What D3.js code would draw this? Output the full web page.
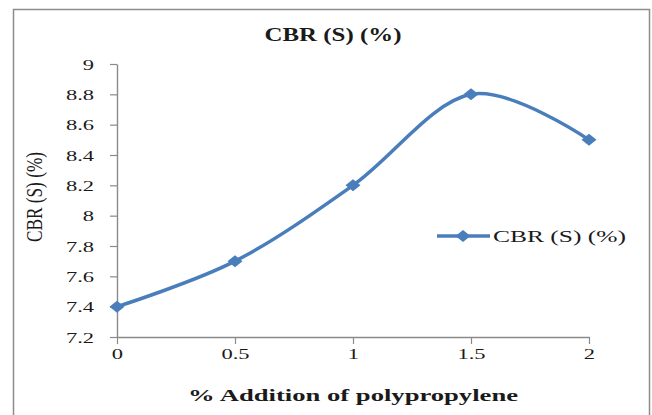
<!DOCTYPE html>
<html>
<head>
<meta charset="utf-8">
<script src="https://cdn.jsdelivr.net/npm/d3@7"></script>
<style>
  html, body { margin: 0; padding: 0; background: #fff; }
  svg { display: block; }
</style>
</head>
<body>
<script>
// CBR (S) values against polypropylene content
const additions = [0, 0.5, 1, 1.5, 2];
const cbrValues = [7.4, 7.7, 8.2, 8.8, 8.5];
const xTicks = [0, 0.5, 1, 1.5, 2];
const yTicks = [7.2, 7.4, 7.6, 7.8, 8, 8.2, 8.4, 8.6, 8.8, 9];
const seriesName = "CBR (S) (%)";
const chartTitle = "CBR (S) (%)";
const xTitle = "% Addition of polypropylene";
const yTitle = "CBR (S) (%)";

const W = 652, H = 415;
const blue = "#4a7ebb";
const axisGrey = "#8a8a8a";
const ink = "#1a1a1a";
const serif = "Liberation Serif, Times New Roman, serif";
const stretch = 1.5; // glyphs are drawn wide

const svg = d3.select("body").append("svg").attr("width", W).attr("height", H);

// chart frame
svg.append("rect")
  .attr("x", 13.5).attr("y", 9.5).attr("width", 636).attr("height", 430)
  .attr("fill", "#fff").attr("stroke", "#8c8c8c").attr("stroke-width", 1.5);

const x = d3.scaleLinear().domain([0, 2]).range([117, 589]);
const y = d3.scaleLinear().domain([7.2, 9]).range([337, 64]);

// y axis
const yAxis = svg.append("g")
  .attr("transform", `translate(${x(0)},0)`)
  .call(d3.axisLeft(y).tickValues(yTicks).tickSize(7).tickSizeOuter(0).tickFormat(d3.format("")));
yAxis.attr("font-family", serif);
yAxis.select(".domain").attr("stroke", axisGrey).attr("stroke-width", 1.4);
yAxis.selectAll(".tick line").attr("stroke", axisGrey).attr("stroke-width", 1.2);
yAxis.selectAll(".tick text")
  .attr("x", null).attr("dy", null)
  .attr("text-anchor", "end")
  .attr("dominant-baseline", "central")
  .attr("transform", `translate(-23,0) scale(${stretch},1)`)
  .attr("font-family", serif).attr("font-size", 15).attr("fill", ink);

// x axis
const xAxis = svg.append("g")
  .attr("transform", `translate(0,${y(7.2)})`)
  .call(d3.axisBottom(x).tickValues(xTicks).tickSize(7).tickSizeOuter(0).tickFormat(d3.format("")));
xAxis.attr("font-family", serif);
xAxis.select(".domain").attr("stroke", axisGrey).attr("stroke-width", 1.4);
xAxis.selectAll(".tick line").attr("stroke", axisGrey).attr("stroke-width", 1.2);
xAxis.selectAll(".tick text")
  .attr("y", null).attr("dy", null)
  .attr("text-anchor", "middle")
  .attr("transform", `translate(0,22) scale(${stretch},1)`)
  .attr("font-family", serif).attr("font-size", 15).attr("fill", ink);

// smoothed series line
const line = d3.line()
  .x((d, i) => x(additions[i]))
  .y(d => y(d))
  .curve(d3.curveCardinal.tension(0));
svg.append("path")
  .datum(cbrValues)
  .attr("d", line)
  .attr("fill", "none")
  .attr("stroke", blue)
  .attr("stroke-width", 3.5)
  .attr("stroke-linecap", "round");

// diamond markers
const diamond = d3.symbol().type(d3.symbolSquare).size(72)();
svg.append("g").selectAll("path")
  .data(cbrValues)
  .join("path")
  .attr("d", diamond)
  .attr("transform", (d, i) => `translate(${x(additions[i])},${y(d)}) scale(1.25,1) rotate(45)`)
  .attr("fill", blue);

// titles
svg.append("text")
  .attr("x", 333).attr("y", 41)
  .attr("text-anchor", "middle")
  .attr("font-family", serif).attr("fill", ink)
  .attr("font-weight", "bold")
  .attr("font-size", 19)
  .attr("textLength", 137).attr("lengthAdjust", "spacingAndGlyphs")
  .text(chartTitle);

svg.append("text")
  .attr("x", 353).attr("y", 401)
  .attr("text-anchor", "middle")
  .attr("font-family", serif).attr("fill", ink)
  .attr("font-weight", "bold")
  .attr("font-size", 16)
  .attr("textLength", 330).attr("lengthAdjust", "spacingAndGlyphs")
  .text(xTitle);

svg.append("text")
  .attr("transform", "translate(42,197) rotate(-90) scale(1,1.35)")
  .attr("text-anchor", "middle")
  .attr("font-family", serif).attr("fill", ink)
  .attr("font-size", 17)
  .attr("textLength", 90).attr("lengthAdjust", "spacingAndGlyphs")
  .text(yTitle);

// legend
const legend = svg.append("g").attr("transform", "translate(437,236)");
legend.append("line")
  .attr("x1", 0).attr("x2", 53).attr("y1", 0).attr("y2", 0)
  .attr("stroke", blue).attr("stroke-width", 3.5);
legend.append("path")
  .attr("d", diamond)
  .attr("transform", "translate(26,0) scale(1.25,1) rotate(45)")
  .attr("fill", blue);
legend.append("text")
  .attr("x", 56).attr("y", 6)
  .attr("font-family", serif).attr("fill", ink)
  .attr("font-size", 17)
  .attr("textLength", 133).attr("lengthAdjust", "spacingAndGlyphs")
  .text(seriesName);
</script>
</body>
</html>
